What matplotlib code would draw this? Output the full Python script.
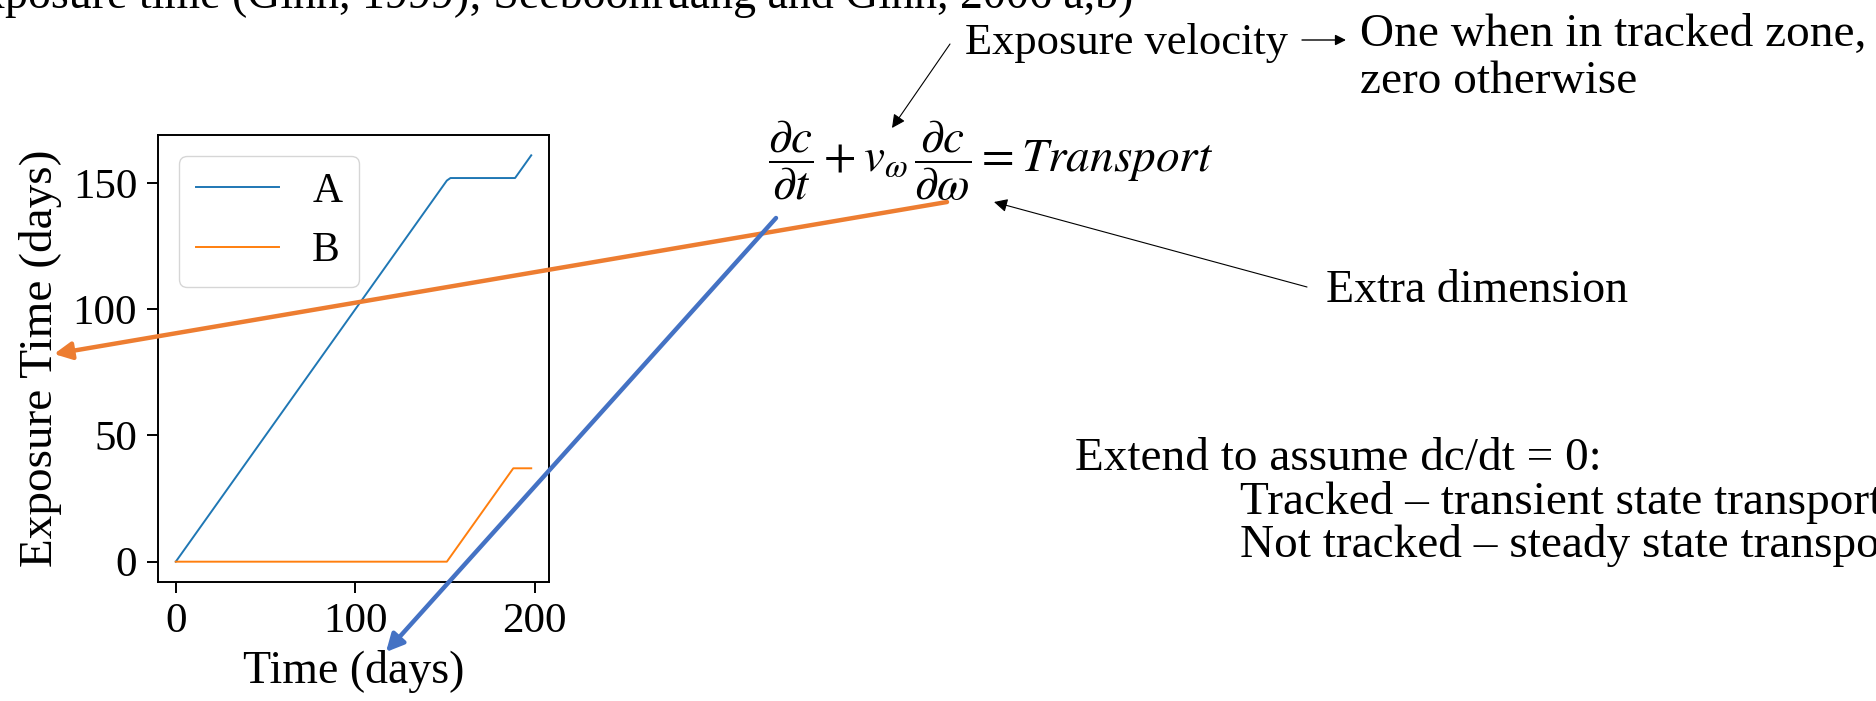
import matplotlib
matplotlib.use('Agg')
import matplotlib.pyplot as plt
from matplotlib.patches import FancyArrowPatch

# Exposure time curves
time_a = [0, 151, 153, 189, 198]
exposure_a = [0, 151, 152, 152, 161]
time_b = [0, 151, 188, 198]
exposure_b = [0, 0, 37, 37]
series_labels = ['A', 'B']

x_ticks = [0, 100, 200]
y_ticks = [0, 50, 100, 150]

# Slide text
top_text = 'Exposure time (Ginn, 1999); Seeboonruang and Ginn, 2006 a,b)'
velocity_text = 'Exposure velocity'
velocity_note = ['One when in tracked zone,', 'zero otherwise']
equation = (r'$\dfrac{\partial c}{\partial t} + v_{\omega}\,'
            r'\dfrac{\partial c}{\partial \omega} = Transport$')
extra_text = 'Extra dimension'
extend_lines = ['Extend to assume dc/dt = 0:',
                'Tracked \u2013 transient state transport',
                'Not tracked \u2013 steady state transport']

W, H = 1876, 701
plt.rcParams['font.family'] = ['Liberation Serif', 'DejaVu Serif']
plt.rcParams['mathtext.fontset'] = 'stix'

fig = plt.figure(figsize=(W / 100, H / 100), dpi=100)


# pixel position (from top-left) to figure fraction
def fx(x):
    return x / W


def fy(y):
    return 1 - y / H


def arrow(p0, p1, color, lw, scale):
    fig.add_artist(FancyArrowPatch((fx(p0[0]), fy(p0[1])), (fx(p1[0]), fy(p1[1])),
                                   transform=fig.transFigure, arrowstyle='-|>',
                                   mutation_scale=scale, color=color, lw=lw,
                                   shrinkA=0, shrinkB=0))


# small chart
ax = fig.add_axes([fx(158), fy(582), fx(549) - fx(158), fy(135) - fy(582)])
ax.plot(time_a, exposure_a, color='#1f77b4', lw=1.4, label=series_labels[0])
ax.plot(time_b, exposure_b, color='#ff7f0e', lw=1.4, label=series_labels[1])
ax.set_xticks(x_ticks)
ax.set_yticks(y_ticks)
ax.tick_params(labelsize=31, length=8, width=1.4, pad=7)
for s in ax.spines.values():
    s.set_linewidth(1.4)
ax.set_xlabel('Time (days)', fontsize=33, labelpad=6)
ax.set_ylabel('Exposure Time (days)', fontsize=34, labelpad=8)
ax.legend(loc='upper left', fontsize=30, handlelength=2.0)

# slide texts
fig.text(fx(1133), fy(8), top_text, fontsize=33, ha='right', va='baseline')
fig.text(fx(965), fy(54), velocity_text, fontsize=32, ha='left', va='baseline')
fig.text(fx(1360), fy(46), velocity_note[0], fontsize=34, ha='left', va='baseline')
fig.text(fx(1360), fy(93), velocity_note[1], fontsize=34, ha='left', va='baseline')
fig.text(fx(768), fy(172), equation, fontsize=34, ha='left', va='baseline')
fig.text(fx(1326), fy(302), extra_text, fontsize=33, ha='left', va='baseline')
fig.text(fx(1075), fy(470), extend_lines[0], fontsize=34, ha='left', va='baseline')
fig.text(fx(1240), fy(514), extend_lines[1], fontsize=34, ha='left', va='baseline')
fig.text(fx(1240), fy(557), extend_lines[2], fontsize=34, ha='left', va='baseline')

# arrows
arrow((1302, 40), (1346, 40), 'black', 1.0, 16)
arrow((950, 44), (892, 128), 'black', 0.8, 20)
arrow((1307, 287), (994, 202), 'black', 0.8, 20)
arrow((947, 202), (54, 354), '#ED7D31', 3.2, 26)
arrow((776, 218), (386, 652), '#4472C4', 3.2, 26)

fig.savefig('out.png', dpi=100)
